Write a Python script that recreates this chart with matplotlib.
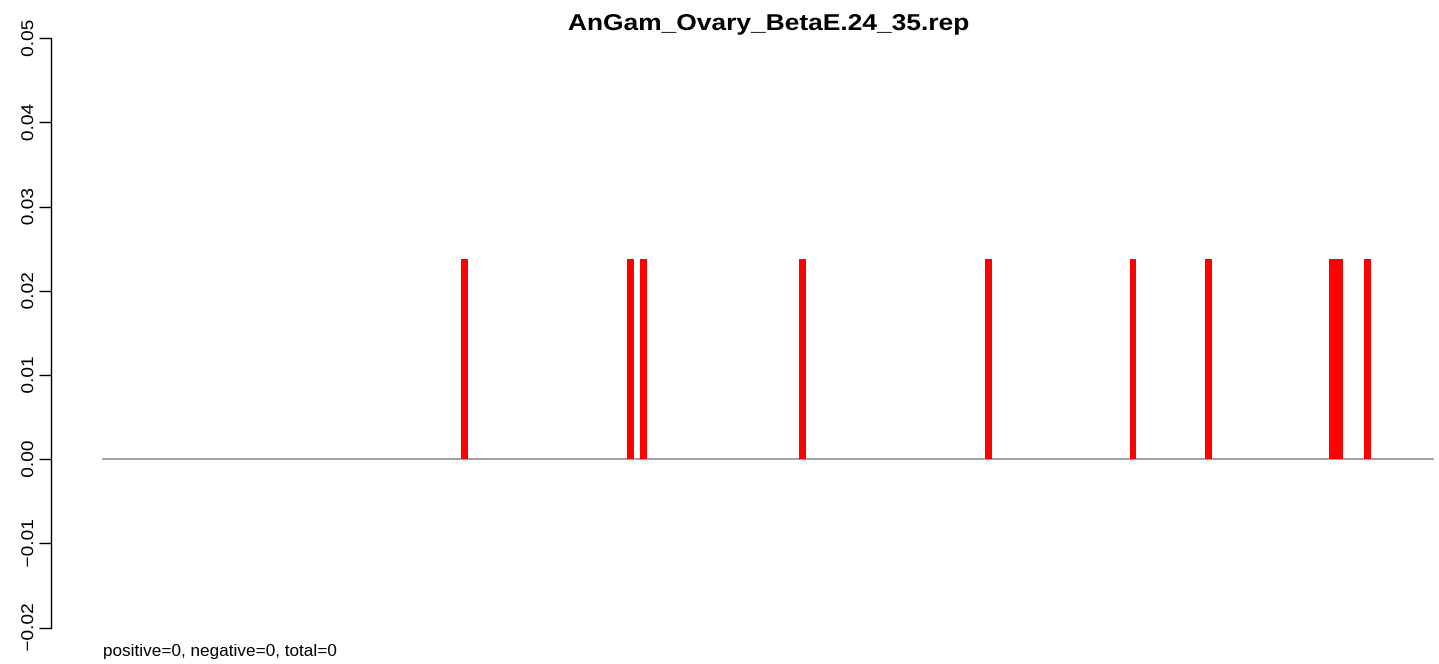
import matplotlib
matplotlib.use("Agg")
import matplotlib.pyplot as plt
from matplotlib.patheffects import AbstractPathEffect
from matplotlib.transforms import Affine2D

# ---- data ----
title = "AnGam_Ovary_BetaE.24_35.rep"
footer = "positive=0, negative=0, total=0"
n_bins = 193
bar_positions = [52, 76, 78, 101, 128, 149, 160, 178, 179, 183]
bar_heights = [0.0238, 0.0238, 0.0238, 0.0238, 0.0238, 0.0238, 0.0238, 0.0238, 0.0238, 0.0238]
y_ticks = [-0.02, -0.01, 0.00, 0.01, 0.02, 0.03, 0.04, 0.05]

plt.rcParams['font.family'] = ['Liberation Sans', 'DejaVu Sans']


class Stretch(AbstractPathEffect):
    """Widen glyphs along the text direction, about the text centre."""
    def __init__(self, sx):
        super().__init__()
        self.sx = sx

    def draw_path(self, renderer, gc, tpath, affine, rgbFace=None):
        ext = tpath.get_extents()
        cx = 0.5 * (ext.x0 + ext.x1)
        pre = Affine2D().translate(-cx, 0).scale(self.sx, 1).translate(cx, 0)
        renderer.draw_path(gc, tpath, pre + affine, rgbFace)


W, H = 1439, 664
fig = plt.figure(figsize=(W / 100, H / 100), dpi=100)

left_px, right_px = 50.5, 1439
top_px, bottom_px = 38.3, 627.5
ax = fig.add_axes([left_px / W, 1 - bottom_px / H,
                   (right_px - left_px) / W, (bottom_px - top_px) / H])

pitch = (1432.7 - 103) / n_bins
ax.set_xlim((left_px - 103) / pitch, (right_px - 103) / pitch)
ax.set_ylim(-0.02, 0.05)

ax.plot([0, n_bins], [0, 0], color='#999999', lw=1.3, zorder=1)
ax.bar(bar_positions, bar_heights, width=1.0, align='edge',
       color='#FF0000', linewidth=0, zorder=2)

for s in ['top', 'right', 'bottom']:
    ax.spines[s].set_visible(False)
ax.spines['left'].set_linewidth(1.0)
ax.set_xticks([])
ax.set_yticks(y_ticks)
labels = ax.set_yticklabels([f"{v:.2f}".replace('-', '\u2212') for v in y_ticks],
                            rotation=90, va='center', fontsize=12.3)
for t in labels:
    t.set_path_effects([Stretch(1.12)])
ax.tick_params(axis='y', length=8.9, width=1.0, pad=1.5)

t1 = fig.text(768 / W, 1 - 30 / H, title, ha='center', va='baseline',
              fontsize=16.5, fontweight='bold')
t1.set_path_effects([Stretch(1.15)])
fig.text(103 / W, 1 - 656 / H, footer, ha='left', va='baseline', fontsize=12.3)

fig.savefig("out.png", dpi=100)
